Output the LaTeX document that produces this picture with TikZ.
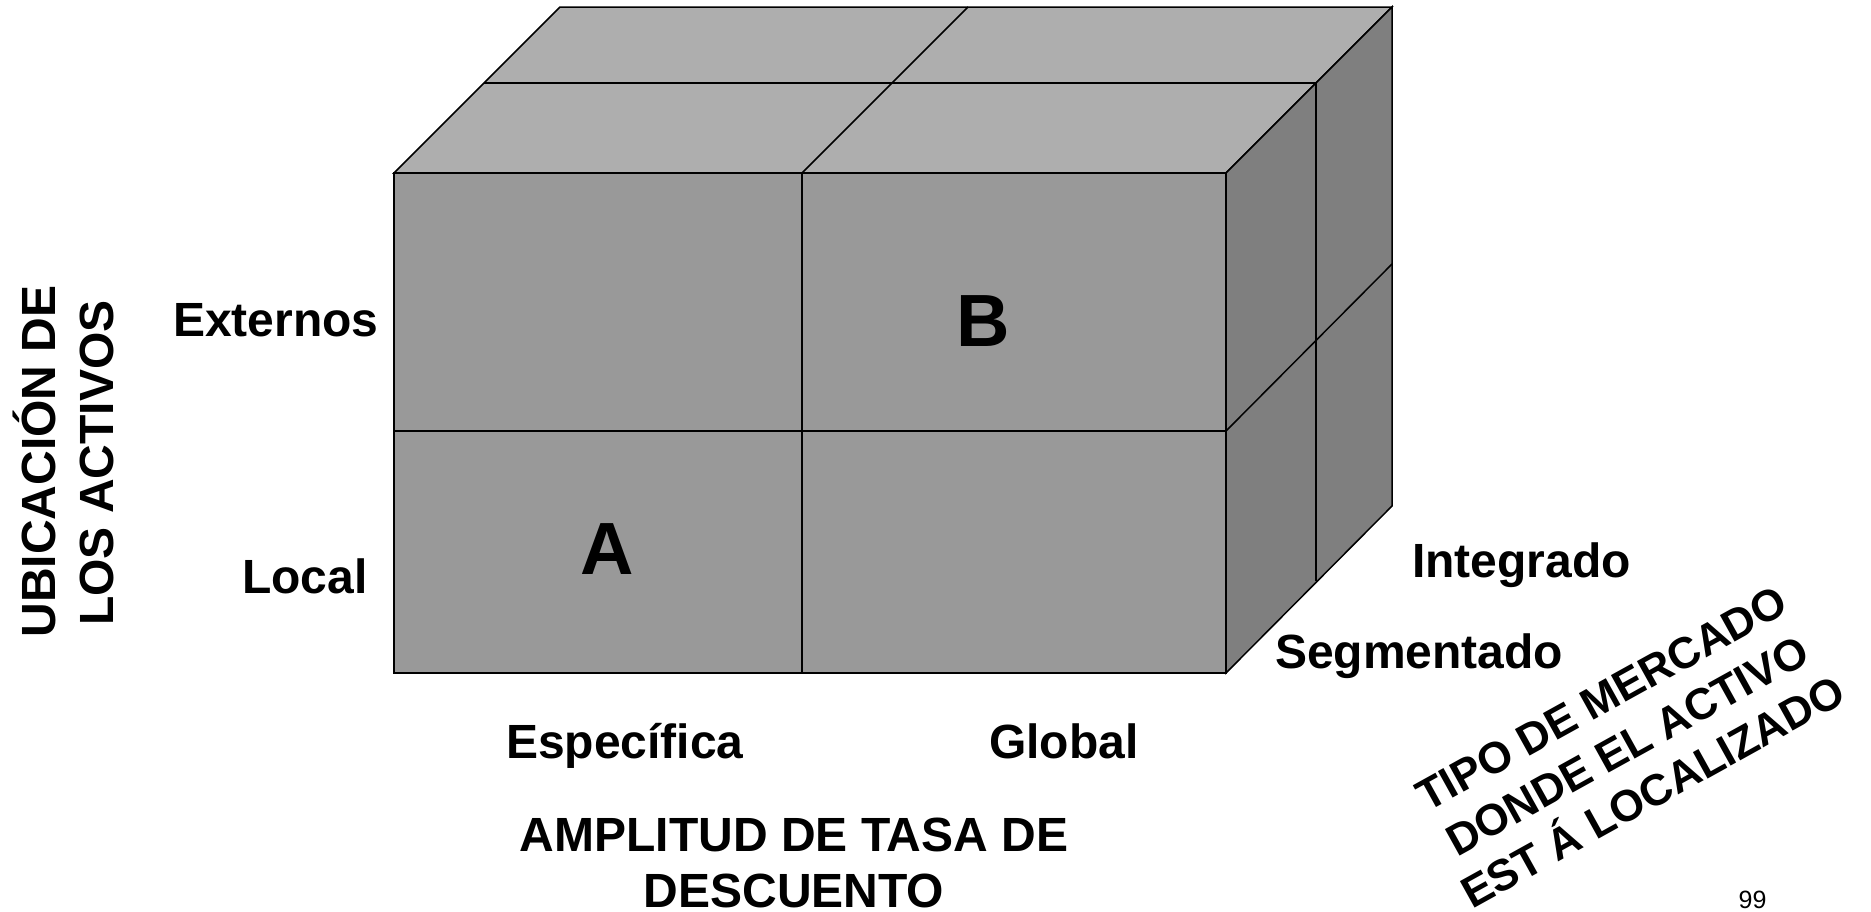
\documentclass[tikz,border=0pt]{standalone}
\usepackage{fontspec}
\setmainfont{Liberation Sans}
\definecolor{frontgray}{HTML}{999999}
\definecolor{topgray}{HTML}{AEAEAE}
\definecolor{sidegray}{HTML}{7F7F7F}
\newcommand\lblfont{\fontsize{48}{58}\selectfont\bfseries}
\newcommand\bigfont{\fontsize{74}{88}\selectfont\bfseries}
\newcommand\slantfont{\fontsize{44}{53}\selectfont\bfseries}
\begin{document}
\begin{tikzpicture}[x=1pt,y=-1pt,
  face/.style={draw=black,line width=1.5pt,line join=miter},
  edge/.style={draw=black,line width=1.5pt},
  lbl/.style={font=\lblfont,inner sep=0pt,text=black},
  big/.style={font=\bigfont,inner sep=0pt,text=black},
  slant/.style={font=\slantfont,inner sep=0pt,text=black,rotate=29,anchor=base}]
\useasboundingbox[fill=white] (0,0) rectangle (1871,911);
% cube corners
\coordinate (FTL) at (394,173);
\coordinate (FTR) at (1226,173);
\coordinate (FBL) at (394,673);
\coordinate (FBR) at (1226,673);
\coordinate (BTL) at (560,7);
\coordinate (BTR) at (1392,7);
\coordinate (BBR) at (1392,506);
% faces
\filldraw[face,fill=topgray] (FTL) -- (FTR) -- (BTR) -- (BTL) -- cycle;
\filldraw[face,fill=sidegray] (FTR) -- (BTR) -- (BBR) -- (FBR) -- cycle;
\filldraw[face,fill=frontgray] (FTL) -- (FTR) -- (FBR) -- (FBL) -- cycle;
% inner lines
\coordinate (FM1) at (802,173); \coordinate (FM2) at (802,673);
\coordinate (FH1) at (394,431); \coordinate (FH2) at (1226,431);
\coordinate (TM1) at (484,83);  \coordinate (TM2) at (1316,83);
\coordinate (TD2) at (968,7);
\coordinate (SV2) at (1316,581);
\coordinate (SD2) at (1392,264);
\draw[edge] (FM1) -- (FM2);
\draw[edge] (FH1) -- (FH2);
\draw[edge] (TM1) -- (TM2);
\draw[edge] (FM1) -- (TD2);
\draw[edge] (TM2) -- (SV2);
\draw[edge] (FH2) -- (SD2);
% cell letters
\node[big,anchor=base] (A) at (607,574) {A};
\node[big,anchor=base] (B) at (983.5,346) {B};
% row labels
\node[lbl,anchor=base west] (ext) at (173,336) {Externos};
\node[lbl,anchor=base west] (loc) at (242,593) {Local};
\node[lbl,anchor=base,rotate=90] (ub1) at (55,461.5) {UBICACIÓN DE};
\node[lbl,anchor=base,rotate=90] (ub2) at (113,463) {LOS ACTIVOS};
% column labels
\node[lbl,anchor=base west] (esp) at (506,758) {Específica};
\node[lbl,anchor=base west] (glo) at (989,758) {Global};
\node[lbl,anchor=base] (am1) at (794,851) {AMPLITUD DE TASA DE};
\node[lbl,anchor=base] (am2) at (794,907) {DESCUENTO};
% depth labels
\node[lbl,anchor=base west] (int) at (1412,577) {Integrado};
\node[lbl,anchor=base west] (seg) at (1275,668) {Segmentado};
\node[slant] (t1) at (1609,712) {TIPO DE MERCADO};
\node[slant] (t2) at (1634.6,758.8) {DONDE EL ACTIVO};
\node[slant] (t3) at (1660.3,805.2) {EST Á LOCALIZADO};
% page number
\node[font=\fontsize{25}{30}\selectfont,inner sep=0pt,anchor=base] (pg) at (1752.5,908) {99};
\end{tikzpicture}
\end{document}
